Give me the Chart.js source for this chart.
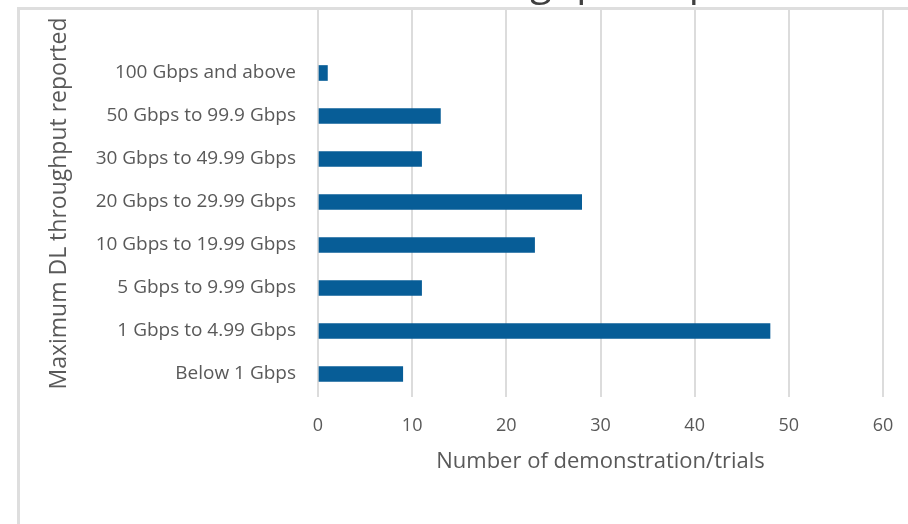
<!DOCTYPE html>
<html>
<head>
<meta charset="utf-8">
<script src="https://cdn.jsdelivr.net/npm/chart.js@4.4.1/dist/chart.umd.min.js"></script>
<style>
    html, body { margin: 0; padding: 0; background: #fff; overflow: hidden; }
    #wrap { position: relative; width: 908px; height: 524px; }
</style>
</head>
<body>
<div id="wrap"><canvas id="chart-bars" width="908" height="524"></canvas></div>
<script>
// categories, top to bottom as in the picture
const categories = [
    "100 Gbps and above",
    "50 Gbps to 99.9 Gbps",
    "30 Gbps to 49.99 Gbps",
    "20 Gbps to 29.99 Gbps",
    "10 Gbps to 19.99 Gbps",
    "5 Gbps to 9.99 Gbps",
    "1 Gbps to 4.99 Gbps",
    "Below 1 Gbps"
];
const trials = [1, 13, 11, 28, 23, 11, 48, 9];
const xTicks = [0, 10, 20, 30, 40, 50, 60];
const chartTitle = "Maximum DL throughput reported"; // cut off at the top of the picture
const yTitle = "Maximum DL throughput reported";
const xTitle = "Number of demonstration/trials";

const textColor = "#595959";
const fontFamily = "'Open Sans', 'Noto Sans', sans-serif";
// index axis range: one empty slot above the first category
const yMin = -1.465, yMax = 7.535;

// frame + cut title
const framePlugin = {
    id: "frame",
    beforeDraw: function (chart) {
        const c = chart.ctx;
        c.save();
        c.fillStyle = "#fff";
        c.fillRect(0, 0, chart.width, chart.height);
        c.font = "40px " + fontFamily;
        c.fillStyle = "#404040";
        c.textBaseline = "alphabetic";
        const before = c.measureText("Maximum DL throu").width;
        c.fillText(chartTitle, 530 - before, -5);
        c.fillStyle = "#dedede";
        c.fillRect(17, 7, chart.width - 17, 3);
        c.fillRect(17, 7, 3, chart.height - 7);
        c.restore();
    }
};

const ctx = document.getElementById("chart-bars").getContext("2d");
new Chart(ctx, {
    type: "bar",
    data: {
        datasets: [{
            label: "Trials",
            data: trials.map(function (v, i) { return { x: v, y: i }; }),
            backgroundColor: "#075d97",
            borderWidth: 0,
            barThickness: 15
        }]
    },
    options: {
        indexAxis: "y",
        responsive: false,
        animation: false,
        layout: { padding: { left: 46, right: 25, top: 10, bottom: 48.8 } },
        plugins: {
            legend: { display: false },
            tooltip: { enabled: false }
        },
        scales: {
            x: {
                type: "linear",
                min: 0,
                max: 60,
                afterBuildTicks: function (scale) {
                    scale.ticks = xTicks.map(function (v) { return { value: v }; });
                },
                afterFit: function (scale) {
                    scale.height = 78.2;
                    scale.paddingLeft = 0;
                    scale.paddingRight = 0;
                },
                grid: {
                    display: true,
                    drawTicks: false,
                    color: "#dcdcdc",
                    lineWidth: 2
                },
                border: { display: false },
                ticks: {
                    color: textColor,
                    padding: 18,
                    font: { size: 18, family: fontFamily }
                },
                title: {
                    display: true,
                    text: xTitle,
                    color: textColor,
                    padding: 0,
                    font: { size: 22, family: fontFamily }
                }
            },
            y: {
                type: "linear",
                reverse: true,
                offset: false,
                bounds: "data",
                min: yMin,
                max: yMax,
                afterBuildTicks: function (scale) {
                    scale.ticks = categories.map(function (c, i) { return { value: i }; });
                },
                afterFit: function (scale) {
                    scale.width = 272;
                    scale.paddingTop = 0;
                    scale.paddingBottom = 0;
                },
                grid: { display: false, drawTicks: false, offset: false },
                border: { display: false },
                ticks: {
                    autoSkip: false,
                    color: textColor,
                    padding: 22,
                    font: { size: 19, family: fontFamily },
                    callback: function (v) { return categories[v]; }
                },
                title: {
                    display: true,
                    text: yTitle,
                    color: textColor,
                    padding: 0,
                    font: { size: 23, family: fontFamily }
                }
            }
        }
    },
    plugins: [framePlugin]
});
</script>
</body>
</html>
